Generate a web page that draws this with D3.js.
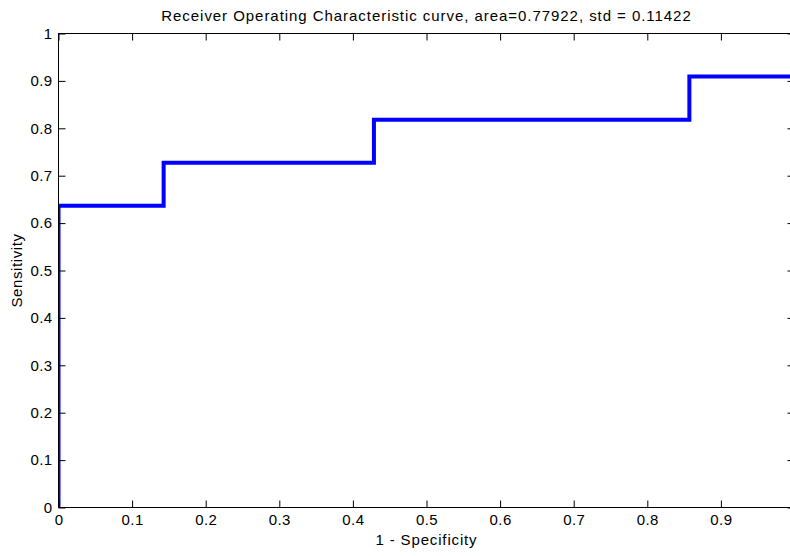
<!DOCTYPE html>
<html>
<head>
<meta charset="utf-8">
<script src="https://cdn.jsdelivr.net/npm/d3@7"></script>
<style>
  body { margin: 0; background: #fff; overflow: hidden; }
  svg { display: block; }
  text { font-family: Arial, "Liberation Sans", sans-serif; fill: #000; }
</style>
</head>
<body>
<div id="chart"></div>
<script>
// ROC step curve (1 - specificity, sensitivity)
var fpr = [0, 0, 1/7, 1/7, 3/7, 3/7, 6/7, 6/7, 1, 1];
var tpr = [0, 7/11, 7/11, 8/11, 8/11, 9/11, 9/11, 10/11, 10/11, 1];
var xTicks = [0, 0.1, 0.2, 0.3, 0.4, 0.5, 0.6, 0.7, 0.8, 0.9];
var yTicks = [0, 0.1, 0.2, 0.3, 0.4, 0.5, 0.6, 0.7, 0.8, 0.9, 1];
var titleText = "Receiver Operating Characteristic curve, area=0.77922, std = 0.11422";

var svgWidth = 790, svgHeight = 556;
var margin = {top: 33.5, left: 58.5};
var width = 736, height = 474;

var svg = d3.select("#chart").append("svg")
  .attr("width", svgWidth)
  .attr("height", svgHeight);

var g = svg.append("g")
  .attr("transform", `translate(${margin.left}, ${margin.top})`);

var x = d3.scaleLinear().domain([0, 1]).range([0, width]);
var y = d3.scaleLinear().domain([0, 1]).range([height, 0]);
var fmt = d => String(+d.toFixed(1));

// clip the curve to the axes box
g.append("clipPath").attr("id", "clip")
  .append("rect").attr("width", width).attr("height", height);

var line = d3.line().x(d => x(d[0])).y(d => y(d[1]));
g.append("path")
  .datum(fpr.map((v, i) => [v, tpr[i]]))
  .attr("clip-path", "url(#clip)")
  .attr("fill", "none")
  .attr("stroke", "#0000ff")
  .attr("stroke-width", 4)
  .attr("stroke-linejoin", "miter")
  .attr("d", line);

// axes, ticks pointing inward on all four sides
function styleAxis(sel) {
  sel.select(".domain").remove();
  sel.selectAll("line").attr("stroke", "#000");
  sel.selectAll("text").style("font-size", "15px").style("letter-spacing", "0.4px").attr("fill", "#000");
}

g.append("g")
  .attr("transform", `translate(0, ${height})`)
  .call(d3.axisBottom(x).tickValues(xTicks).tickFormat(fmt).tickSizeInner(-7).tickSizeOuter(0).tickPadding(7))
  .call(styleAxis);

g.append("g")
  .call(d3.axisTop(x).tickValues(xTicks).tickFormat("").tickSizeInner(-7).tickSizeOuter(0))
  .call(styleAxis);

g.append("g")
  .call(d3.axisLeft(y).tickValues(yTicks).tickFormat(fmt).tickSizeInner(-7).tickSizeOuter(0).tickPadding(6))
  .call(styleAxis);

g.append("g")
  .attr("transform", `translate(${width}, 0)`)
  .call(d3.axisRight(y).tickValues(yTicks).tickFormat("").tickSizeInner(-7).tickSizeOuter(0))
  .call(styleAxis);

g.append("rect")
  .attr("width", width).attr("height", height)
  .attr("fill", "none").attr("stroke", "#000").attr("stroke-width", 1);

// title and labels
g.append("text")
  .attr("x", width / 2).attr("y", 21 - margin.top)
  .attr("text-anchor", "middle")
  .style("font-size", "15px")
  .style("letter-spacing", "0.95px")
  .text(titleText);

g.append("text")
  .attr("x", width / 2).attr("y", 545 - margin.top)
  .attr("text-anchor", "middle")
  .style("font-size", "15px")
  .style("letter-spacing", "0.85px")
  .text("1 - Specificity");

g.append("text")
  .attr("transform", "rotate(-90)")
  .attr("x", -height / 2).attr("y", 22 - margin.left)
  .attr("text-anchor", "middle")
  .style("font-size", "15px")
  .style("letter-spacing", "0.6px")
  .text("Sensitivity");
</script>
</body>
</html>
